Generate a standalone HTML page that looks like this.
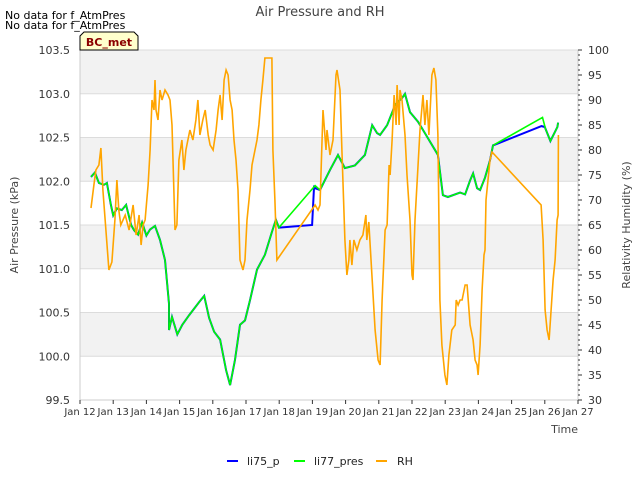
<!DOCTYPE html>
<html><head><meta charset="utf-8"><style>
body{margin:0;background:#fff;font-family:"Liberation Sans","DejaVu Sans",sans-serif;}
svg text{font-family:"DejaVu Sans","Liberation Sans",sans-serif;}
</style></head><body>
<svg id="chart" width="640" height="480" viewBox="0 0 640 480" xmlns="http://www.w3.org/2000/svg">
<rect width="640" height="480" fill="#fff"/>
<g id="bands"></g>
<g id="grid"></g>
<g id="series"></g>
<g id="axes"></g>
<text x="320" y="16" text-anchor="middle" font-size="13" fill="#444">Air Pressure and RH</text>
<text x="5" y="19" font-size="11" fill="#000">No data for f_AtmPres</text>
<text x="5" y="29" font-size="11" fill="#000">No data for f_AtmPres</text>
<g>
<path d="M80,50 L80,36 L84,32 L134,32 L138,36 L138,50 Z" fill="#ffffcc" stroke="#000" stroke-width="1"/>
<text x="109" y="46" text-anchor="middle" font-size="11" font-weight="bold" fill="#8b0000">BC_met</text>
</g>
<text x="578" y="433" text-anchor="end" font-size="11" fill="#444">Time</text>
<text transform="translate(18,225) rotate(-90)" text-anchor="middle" font-size="11" fill="#444">Air Pressure (kPa)</text>
<text transform="translate(630,225) rotate(-90)" text-anchor="middle" font-size="11" fill="#444">Relativity Humidity (%)</text>
<g>
<g><line x1="227" y1="461" x2="238" y2="461" stroke="#0000ff" stroke-width="2"/><text x="247" y="465" font-size="11" fill="#222">li75_p</text></g>
<g><line x1="294" y1="461" x2="305" y2="461" stroke="#00ff00" stroke-width="2"/><text x="314" y="465" font-size="11" fill="#222">li77_pres</text></g>
<g><line x1="376" y1="461" x2="387" y2="461" stroke="#ffa500" stroke-width="2"/><text x="397" y="465" font-size="11" fill="#222">RH</text></g>
</g>
</svg>
<script>
const xTickLabels=["Jan 12","Jan 13","Jan 14","Jan 15","Jan 16","Jan 17","Jan 18","Jan 19","Jan 20","Jan 21","Jan 22","Jan 23","Jan 24","Jan 25","Jan 26","Jan 27"];
const leftTicks=[99.5,100.0,100.5,101.0,101.5,102.0,102.5,103.0,103.5];
const rightTicks=[30,35,40,45,50,55,60,65,70,75,80,85,90,95,100];
// pressure (li77_pres): days since Jan 12 and kPa
const presDays=[0.33,0.45,0.57,0.72,0.81,0.93,1.0,1.11,1.26,1.39,1.54,1.63,1.75,1.87,2.0,2.11,2.26,2.41,2.56,2.68,2.68,2.77,2.93,3.08,3.29,3.59,3.74,3.89,4.04,4.22,4.4,4.52,4.67,4.82,4.97,5.12,5.33,5.57,5.78,5.9,5.99,7.08,7.23,7.53,7.77,7.98,8.28,8.58,8.8,8.95,9.04,9.25,9.49,9.7,9.79,9.94,10.18,10.39,10.69,10.78,10.93,11.08,11.45,11.6,11.75,11.84,11.96,12.05,12.2,12.35,12.44,13.93,14.02,14.17,14.38,14.4];
const presVals=[102.05,102.1,101.98,101.96,101.98,101.73,101.61,101.69,101.67,101.73,101.5,101.44,101.39,101.53,101.38,101.45,101.49,101.33,101.1,100.6,100.3,100.45,100.25,100.36,100.47,100.62,100.69,100.44,100.28,100.19,99.84,99.67,99.96,100.36,100.41,100.64,100.99,101.16,101.42,101.56,101.47,101.95,101.9,102.13,102.3,102.15,102.18,102.3,102.64,102.55,102.53,102.64,102.87,102.95,103.0,102.79,102.68,102.55,102.36,102.3,101.84,101.82,101.87,101.85,102.01,102.09,101.92,101.9,102.04,102.24,102.41,102.73,102.6,102.46,102.62,102.67];
// li75_p differs in data gaps
const p75Days=[6.0,6.99,7.05,7.08,13.9,14.0];
const p75Vals=[101.47,101.5,101.95,101.92,102.63,102.62];
// RH: days since Jan 12 and %
const rhDays=[
0.33,0.42,0.48,0.57,0.63,0.69,0.78,0.87,0.96,1.05,
1.11,1.17,1.23,1.36,1.48,1.6,1.69,1.78,1.84,1.9,
1.96,2.05,2.11,2.17,2.23,2.26,2.29,2.35,2.41,2.47,
2.56,2.65,2.71,2.77,2.86,2.92,2.98,3.07,3.13,3.19,
3.31,3.4,3.49,3.55,3.61,3.7,3.77,3.86,3.92,4.01,
4.1,4.16,4.22,4.28,4.34,4.4,4.46,4.52,4.58,4.64,
4.7,4.76,4.82,4.91,4.97,5.03,5.12,5.18,5.27,5.33,
5.39,5.45,5.51,5.57,5.78,5.81,5.87,5.93,7.08,7.17,
7.23,7.32,7.41,7.44,7.53,7.62,7.71,7.74,7.83,7.89,
7.98,8.04,8.1,8.13,8.19,8.25,8.34,8.43,8.52,8.61,
8.64,8.7,8.8,8.89,8.98,9.04,9.1,9.19,9.25,9.31,
9.34,9.4,9.46,9.52,9.55,9.61,9.64,9.7,9.79,9.85,
9.94,10.0,10.03,10.09,10.24,10.33,10.39,10.45,10.51,10.6,
10.66,10.72,10.78,10.84,10.9,10.99,11.05,11.11,11.2,11.3,
11.33,11.39,11.45,11.51,11.6,11.66,11.75,11.84,11.9,11.96,
11.99,12.05,12.11,12.17,12.2,12.23,12.29,12.35,12.41,13.89,
13.95,14.01,14.07,14.13,14.19,14.25,14.31,14.34,14.37,14.4,
14.41];
const rhVals=[
68.4,73,76,77,80.4,72,64,56,57.6,66,
74,68,65,67,64,69,63,67,61,65,
66,73,80,90,88,94,88,86,92,90,
92,91,90,85,64,65,78,82,76,80,
84,82,86,90,83,86,88,83,81,80,
84,88,91,86,94,96,95,90,88,82,
78,72,58,56,58,66,72,77,80,82,
85,90,94,98.4,98.4,80,70,58,69,68,
69,88,80,84,79,82,95,96,92,80,
62,55,58,62,57,62,60,62,63,67,
62,65.6,54,44,38,37,50,64,65,77,
75,82,91,85,93,85,92,90,83,75,
66,55,54,66,84,91,85,90,83,95,
96.4,94,83,50,41,35,33,39,44,45,
50,49,50,50,53,53,45,42,38,37,
35,41,52,59,60,70,74,78,79.6,69,
62,48,44,42,48,54,58,62,66,67,
83];
const X0=80,X1=578,Y0=50,Y1=400;
const xs=d=>X0+(X1-X0)*d/15;
const yP=p=>Y1-(p-99.5)*(Y1-Y0)/4;
const yR=r=>Y1-(r-30)*(Y1-Y0)/70;
const NS="http://www.w3.org/2000/svg";
function mk(parent,tag,attrs){const e=document.createElementNS(NS,tag);for(const k in attrs)e.setAttribute(k,attrs[k]);document.getElementById(parent).appendChild(e);return e;}
for(let i=0;i<4;i++){const top=103.5-i;
const b=mk('bands','rect',{x:X0,y:yP(top),width:X1-X0,height:yP(top-0.5)-yP(top),fill:'#f2f2f2'});

}
leftTicks.forEach(v=>{const g=mk('grid','line',{x1:X0,x2:X1,y1:yP(v),y2:yP(v),stroke:'#dcdcdc','stroke-width':1});

});
const ax=mk('axes','path',{d:`M${X0},${Y0} L${X0},${Y1} L${X1},${Y1} L${X1},${Y0}`,fill:'none',stroke:'#ccc','stroke-width':1});


leftTicks.forEach(v=>{const t=mk('axes','text',{x:X0-10,y:yP(v)+4,'text-anchor':'end','font-size':11,fill:'#333'});t.textContent=v.toFixed(1);

});
rightTicks.forEach(v=>{const t=mk('axes','text',{x:X1+10,y:yR(v)+4,'text-anchor':'start','font-size':11,fill:'#333'});t.textContent=v;

});
for(let r=30;r<=100;r++){const l=mk('axes','line',{x1:X1,x2:X1+(r%5?2:4),y1:yR(r),y2:yR(r),stroke:'#333','stroke-width':1});

}
xTickLabels.forEach((s,i)=>{const l=mk('axes','line',{x1:xs(i),x2:xs(i),y1:Y1,y2:Y1+4,stroke:'#333'});


const t=mk('axes','text',{x:xs(i),y:Y1+15,'text-anchor':'middle','font-size':10,fill:'#333'});t.textContent=s;

});
function pts(ds,vs,f){return ds.map((d,i)=>xs(d).toFixed(1)+','+f(vs[i]).toFixed(1)).join(' ');}
const b75d=[],b75v=[];
presDays.forEach((d,i)=>{if(!(d>6&&d<7.1)&&!(d>13.8&&d<14.1)){b75d.push(d);b75v.push(presVals[i]);}});
p75Days.forEach((d,i)=>{b75d.push(d);b75v.push(p75Vals[i]);});
const ord=b75d.map((d,i)=>i).sort((a,b)=>b75d[a]-b75d[b]);
const s75=mk('series','polyline',{points:pts(ord.map(i=>b75d[i]),ord.map(i=>b75v[i]),yP),fill:'none',stroke:'#0000ff','stroke-width':2});


const s77=mk('series','polyline',{points:pts(presDays,presVals,yP),fill:'none',stroke:'#00ff00','stroke-width':1.6});


const srh=mk('series','polyline',{points:pts(rhDays,rhVals,yR),fill:'none',stroke:'#ffa500','stroke-width':1.6});


</script>
</body></html>
